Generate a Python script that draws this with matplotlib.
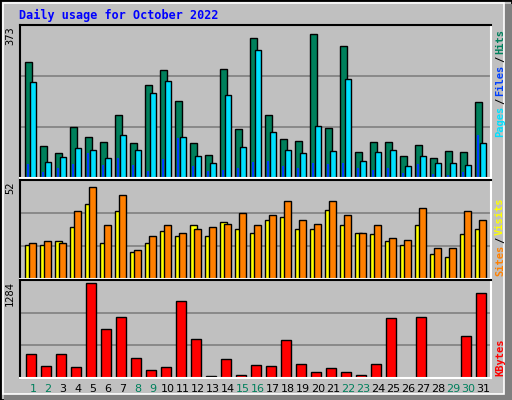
import matplotlib
matplotlib.use('Agg')
import matplotlib.pyplot as plt
from matplotlib.patches import Rectangle
import numpy as np

days = list(range(1, 32))
hits = [291, 80, 62, 129, 104, 90, 158, 87, 235, 272, 195, 87, 58, 274, 124, 353,
        158, 97, 94, 363, 126, 333, 65, 90, 90, 55, 82, 50, 67, 65, 190]
files = [242, 40, 53, 75, 70, 50, 107, 70, 213, 245, 102, 55, 38, 208, 77, 323,
         117, 70, 62, 131, 67, 249, 43, 65, 70, 31, 55, 38, 38, 33, 87]
pages = [35, 16, 25, 35, 63, 33, 50, 33, 18, 48, 100, 30, 18, 20, 25, 40,
         43, 30, 25, 38, 35, 38, 25, 20, 25, 12, 35, 10, 8, 16, 109]
visits = [18.4, 18.4, 20.6, 28.2, 40.6, 19.5, 36.8, 14.6, 19.5, 26, 23.3, 29.3, 23.3, 30.9, 27.1, 24.9,
          32, 33.6, 27.1, 27.1, 37.4, 29.3, 24.9, 24.4, 20.6, 18.4, 29.3, 13.5, 11.9, 24.4, 27.1]
sites = [19.5, 20.6, 19.5, 36.8, 49.8, 29.3, 45.5, 15.7, 23.3, 29.3, 24.9, 27.1, 28.2, 29.8, 35.8, 29.3,
         34.7, 42.3, 32, 29.8, 42.3, 34.7, 24.9, 29.3, 22.2, 21.1, 38.5, 16.8, 16.8, 36.8, 32]
kbytes = [328, 159, 328, 145, 1284, 665, 834, 272, 103, 145, 1045, 525, 33, 258, 47, 173,
          159, 511, 187, 75, 131, 75, 47, 187, 820, 5, 834, 5, 5, 567, 1157]
weekend = [1, 2, 8, 9, 15, 16, 22, 23, 29, 30]

W, H = 512, 400
BG = '#C0C0C0'
fig = plt.figure(figsize=(W / 100, H / 100), dpi=100, facecolor=BG)
mono = 'DejaVu Sans Mono'

# outer frame: white top/left, dark shadow right/bottom
fig.patches.append(Rectangle((0, 0), 1, 1, transform=fig.transFigure, fill=False, ec='black', lw=2))
fig.patches.append(Rectangle((1 - 8 / W, 0), 8 / W, 1 - 4 / H, transform=fig.transFigure, fc='#808080', ec='none'))
fig.patches.append(Rectangle((4 / W, 0), 1 - 4 / W, 6 / H, transform=fig.transFigure, fc='#808080', ec='none'))
fig.patches.append(Rectangle((3 / W, 6 / H), 1 - 11 / W, 1 - 9 / H, transform=fig.transFigure, fill=False, ec='white', lw=1.2))


def make_ax(top, bottom):
    ax = fig.add_axes([20 / W, 1 - bottom / H, 471 / W, (bottom - top) / H])
    ax.set_facecolor(BG)
    ax.set_xlim(0.67, 32.07)
    ax.set_xticks([])
    ax.set_yticks([])
    for s in ax.spines.values():
        s.set_linewidth(1.5)
    ax.spines['right'].set_color('white')
    ax.spines['bottom'].set_color('white')
    return ax


x = np.array(days, dtype=float)
kw = dict(align='edge', edgecolor='black', linewidth=1)

ax1 = make_ax(25, 178)
top1 = 385
ax1.set_ylim(0, top1)
for g in (top1 / 3, 2 * top1 / 3):
    ax1.axhline(g, color='#808080', lw=1.2, zorder=0)
ax1.bar(x, hits, width=0.47, color='#00805C', **kw)
ax1.bar(x + 0.31, files, width=0.44, color='#00E0FF', **kw)
ax1.bar(x + 0.13, pages, width=0.15, color='#0040FF', align='edge', edgecolor='none')

ax2 = make_ax(180, 279)
top2 = 53.5
ax2.set_ylim(0, top2)
for g in (top2 / 3, 2 * top2 / 3):
    ax2.axhline(g, color='#808080', lw=1.2, zorder=0)
ax2.bar(x, visits, width=0.47, color='#FFFF00', **kw)
ax2.bar(x + 0.29, sites, width=0.47, color='#FF8000', **kw)

ax3 = make_ax(280, 378)
top3 = 1330
ax3.set_ylim(0, top3)
for g in (top3 / 3, 2 * top3 / 3):
    ax3.axhline(g, color='#808080', lw=1.2, zorder=0)
ax3.bar(x + 0.07, kbytes, width=0.67, color='#FF0000', **kw)
for d in days:
    ax3.text(d + 0.53, -0.06, str(d), transform=ax3.get_xaxis_transform(), ha='center', va='top',
             fontsize=8, family='DejaVu Sans', color='#00805C' if d in weekend else 'black')

# title and scale labels
fig.text(19 / W, 1 - 15 / H, 'Daily usage for October 2022', color='#0000FF', fontsize=8.5,
         family=mono, weight='bold', va='center')
for ytop, lab in ((26, '373'), (181, '52'), (281, '1284')):
    fig.text(10 / W, 1 - ytop / H, lab, rotation=90, fontsize=7.5, family=mono, ha='center', va='top')

renderer = fig.canvas.get_renderer()


def side_label(parts, ybot):
    y = ybot
    for txt, col in parts:
        t = fig.text(500 / W, 1 - y / H, txt, rotation=90, color=col, fontsize=7.5, family=mono,
                     weight='bold', ha='center', va='bottom')
        y -= t.get_window_extent(renderer).height + 2


side_label([('Pages', '#00E0FF'), ('/', 'black'), ('Files', '#0040FF'), ('/', 'black'), ('Hits', '#00805C')], 137)
side_label([('Sites', '#FF8000'), ('/', 'black'), ('Visits', '#FFFF00')], 276)
side_label([('KBytes', '#FF0000')], 376)

fig.savefig('out.png', dpi=100, facecolor=BG)
